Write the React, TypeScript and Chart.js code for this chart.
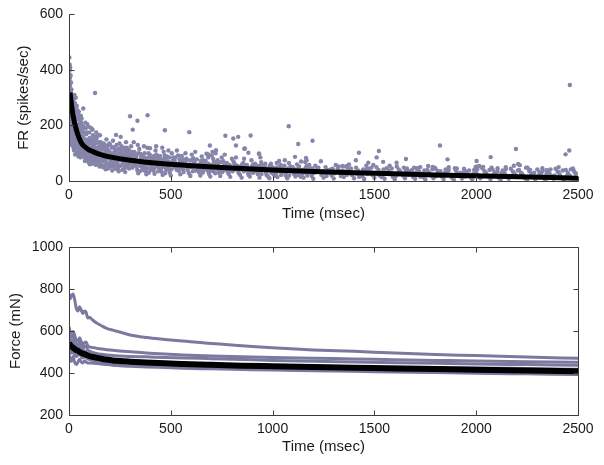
import React, { useEffect, useRef } from "react";
import { Chart, registerables } from "chart.js";

Chart.register(...registerables);

// ---------- Top panel: firing rate scatter (pairs: time msec, FR spikes/sec) ----------
const frOnset = [2,445, 3,420, 4,400, 2,385, 5,372, 3,360, 6,350, 4,342, 2,335, 7,328, 5,318, 3,305, 8,298, 6,290, 4,282, 9,275, 2,268, 7,262, 5,255, 10,248, 3,240, 8,235, 6,228, 11,222, 4,215, 9,208, 2,200, 12,195, 7,190, 5,183, 10,177, 3,170, 13,165, 8,160, 6,155, 11,150, 4,145, 14,140, 9,180, 12,205, 15,230, 13,260, 16,285, 11,310, 14,195, 15,170, 17,150, 16,215, 18,245, 12,130, 7,135, 19,175, 17,270, 6,410, 8,380, 10,355, 12,330, 14,300,
  1,300, 3,280, 5,230, 7,210, 9,320, 11,260, 13,225, 15,200, 16,180, 18,160, 19,210, 20,190];
const frRise = [21,290, 22,265, 23,240, 24,215, 25,190, 26,170, 27,150, 28,130, 22,120, 25,110, 29,280, 30,255, 31,230, 32,205, 33,185, 34,160, 35,140, 36,120, 37,100, 30,95, 38,270, 39,245, 40,222, 41,200, 42,178, 43,155, 44,135, 45,115, 46,98, 47,88, 48,250, 49,228, 50,206, 51,185, 52,165, 53,145, 54,128, 55,110, 56,95, 57,85, 58,235, 59,212, 60,190, 41,255, 33,300, 27,310, 45,240, 52,220, 24,175, 36,160, 44,105, 50,92, 56,130, 59,150, 28,200, 35,225, 48,170, 54,190,
  23,160, 26,255, 29,140, 31,195, 34,245, 37,175, 39,130, 42,240, 44,190, 46,150, 49,120, 51,230, 53,105, 55,170, 57,140, 61,120, 63,175, 66,135, 69,100, 71,195, 73,150, 77,110, 81,130, 84,90, 87,175, 89,140, 91,80, 94,115, 97,135, 101,100];
const frDecay = [62,225, 64,200, 66,180, 68,160, 70,140, 72,120, 74,100, 76,85, 78,72, 80,210, 82,190, 84,168, 86,148, 88,128, 90,110, 92,95, 94,80, 96,68, 98,195, 100,175, 102,155, 104,135, 106,118, 108,102, 110,88, 112,75, 114,62, 116,185, 118,165, 120,145, 122,128, 124,112, 126,98, 128,85, 130,72, 132,58, 134,175, 136,155, 138,138, 140,120, 142,105, 144,92, 146,78, 148,65, 150,52, 65,95, 75,130, 85,75, 95,150, 105,70, 115,130, 125,160, 135,95, 145,140, 70,175, 90,205, 110,190, 130,120, 140,60, 67,110, 83,100, 99,90, 117,108, 131,100, 147,110, 79,150, 103,80, 121,70, 139,80, 93,120, 113,150, 127,135, 143,165];
const frEarly = [152,165, 156,140, 160,118, 164,100, 168,85, 172,70, 176,55, 180,42, 184,150, 188,128, 192,110, 196,95, 200,80, 204,66, 208,52, 212,38, 216,145, 220,122, 224,105, 228,90, 232,76, 236,62, 240,48, 244,35, 248,135, 252,115, 256,98, 260,85, 264,72, 268,58, 272,45, 276,32, 280,140, 284,120, 288,100, 292,88, 296,75, 300,60, 158,75, 170,95, 182,110, 194,60, 206,95, 218,70, 230,110, 242,85, 254,55, 266,95, 278,108, 290,65, 162,130, 174,125, 186,90, 198,135, 210,120, 222,55, 234,130, 246,100, 258,125, 270,110, 282,80, 294,112, 166,50, 190,45, 214,85, 238,42, 262,40, 286,50];
const frMid = [305,125, 310,105, 315,90, 320,78, 325,65, 330,52, 335,40, 340,28, 345,115, 350,98, 355,85, 360,72, 365,60, 370,48, 375,35, 380,24, 385,120, 390,100, 395,88, 400,75, 405,63, 410,50, 415,38, 420,26, 425,110, 430,95, 435,82, 440,70, 445,58, 450,45, 455,33, 460,22, 465,105, 470,92, 475,80, 480,68, 485,55, 490,42, 495,30, 500,20, 312,60, 328,95, 342,70, 358,50, 372,85, 388,62, 402,40, 418,90, 432,55, 448,78, 462,60, 478,40, 492,85, 318,140, 338,130, 368,125, 398,118, 428,125, 458,120, 488,110, 348,35, 392,30, 438,35, 472,28,
  505,100, 512,85, 519,72, 526,60, 533,48, 540,36, 547,24, 554,90, 561,78, 568,65, 575,52, 582,40, 589,28, 596,18, 603,95, 610,82, 617,68, 624,55, 631,44, 638,32, 645,20, 652,88, 659,75, 666,62, 673,50, 680,38, 687,26, 694,16, 701,92, 708,80, 715,66, 722,54, 729,42, 736,30, 743,18, 750,85, 757,72, 764,60, 771,48, 778,36, 785,25, 792,15, 800,80, 515,55, 530,110, 545,65, 560,42, 580,75, 600,50, 620,105, 640,60, 660,40, 675,98, 690,55, 710,35, 730,75, 745,50, 765,95, 780,55, 795,40, 536,92, 572,100, 608,35, 648,72, 684,85, 720,100, 756,40];
const frMidFill = [102,60, 107,140, 111,115, 119,95, 123,82, 129,150, 133,110, 137,68, 141,90, 149,125, 153,100, 157,60, 161,88, 167,115, 171,135, 175,80, 179,100, 183,68, 187,118, 191,82, 195,48, 199,105, 203,130, 207,75, 211,100, 215,62, 219,95, 223,120, 227,45, 231,88, 235,100, 239,70, 243,115, 247,55, 251,92, 255,75, 259,105, 263,60, 267,82, 271,120, 275,68, 279,92, 283,55, 287,78, 291,100, 295,45, 299,85, 303,70, 307,95, 311,48, 317,80, 321,105, 327,58, 331,88, 337,72, 341,100, 347,55, 351,75, 357,92, 361,40, 367,68, 371,100, 377,58, 381,80, 387,45, 391,70, 397,95, 401,55, 407,82, 411,65, 417,45, 421,75, 427,60, 431,88, 437,50, 441,62, 447,90, 451,38, 457,72, 461,50, 467,80, 471,62, 477,45, 481,88, 487,70, 491,52, 497,65, 503,42, 509,72, 517,50, 523,85, 529,40, 537,62, 543,78, 551,48, 557,68, 563,32, 569,55, 577,80, 585,45, 593,60, 599,75,
  606,50, 614,65, 622,38, 628,78, 636,55, 643,42, 650,68, 657,30, 664,50, 671,72, 678,45, 685,62, 692,35, 698,58, 705,45, 712,70, 718,28, 725,50, 733,62, 740,40, 747,68, 754,32, 761,52, 768,42, 775,65, 782,30, 789,58, 797,48, 804,35, 812,62, 818,42, 826,55, 834,28, 842,48, 850,60, 858,35, 866,45, 874,58, 882,22, 890,40, 898,52, 906,30, 914,62, 922,45, 930,35, 938,55, 946,25, 954,42, 962,50, 970,22, 978,38, 986,55, 994,30, 1002,42, 1010,18, 1018,48, 1026,35, 1034,52, 1042,22, 1050,40, 1058,55, 1066,30, 1074,45, 1082,20, 1090,38, 1098,50, 1106,25, 1114,42, 1122,32, 1130,52, 1138,15, 1146,40, 1154,30, 1162,48, 1170,20, 1178,35, 1186,45, 1194,25];
const frLate = [808,70, 816,58, 824,45, 832,33, 840,22, 848,12, 856,65, 864,52, 872,40, 880,28, 888,16, 896,75, 904,60, 912,48, 920,36, 928,24, 936,12, 944,68, 952,55, 960,42, 968,30, 976,18, 984,10, 992,62, 1000,50, 1008,38, 1016,26, 1024,14, 1032,72, 1040,58, 1048,45, 1056,33, 1064,20, 1072,10, 1080,65, 1088,52, 1096,40, 1104,28, 1112,16, 1120,60, 1128,48, 1136,36, 1144,24, 1152,12, 1160,68, 1168,55, 1176,42, 1184,30, 1192,18, 1200,8, 820,85, 860,80, 900,30, 940,85, 980,45, 1020,65, 1060,75, 1100,48, 1140,70, 1180,58, 844,52, 884,45, 924,55, 964,62, 1004,25, 1044,30, 1084,35, 1124,22, 1164,38, 1196,45,
  1210,55, 1220,44, 1230,33, 1240,22, 1250,12, 1260,50, 1270,40, 1280,30, 1290,20, 1300,9, 1310,58, 1320,46, 1330,35, 1340,25, 1350,14, 1360,52, 1370,42, 1380,32, 1390,21, 1400,10, 1410,48, 1420,38, 1430,28, 1440,17, 1450,7, 1460,55, 1470,44, 1480,33, 1490,22, 1500,12, 1510,50, 1520,40, 1530,30, 1540,19, 1550,8, 1560,46, 1570,36, 1580,26, 1590,15, 1600,6, 1610,52, 1620,42, 1630,31, 1640,20, 1650,10, 1660,45, 1670,35, 1680,25, 1690,14, 1700,8, 1215,38, 1255,28, 1295,44, 1335,18, 1375,60, 1415,26, 1455,40, 1495,58, 1535,14, 1575,55, 1615,24, 1655,38, 1695,48];
const frTail = [1710,44, 1720,34, 1730,24, 1740,14, 1750,6, 1760,40, 1770,30, 1780,20, 1790,10, 1800,45, 1810,36, 1820,26, 1830,16, 1840,7, 1850,42, 1860,32, 1870,22, 1880,12, 1890,5, 1900,38, 1910,28, 1920,18, 1930,9, 1940,44, 1950,34, 1960,24, 1970,14, 1980,6, 1990,40, 2000,30, 2010,20, 2020,10, 2030,46, 2040,36, 2050,26, 2060,16, 2070,7, 2080,42, 2090,32, 2100,22, 2110,12, 2120,5, 2130,38, 2140,28, 2150,18, 2160,8, 2170,44, 2180,34, 2190,24, 2200,14, 1725,50, 1795,48, 1865,50, 1935,30, 2005,52, 2075,48, 2145,50, 2185,55,
  2210,40, 2220,30, 2230,20, 2240,10, 2250,4, 2260,36, 2270,26, 2280,16, 2290,7, 2300,42, 2310,32, 2320,22, 2330,12, 2340,4, 2350,38, 2360,28, 2370,18, 2380,8, 2390,44, 2400,34, 2410,24, 2420,14, 2430,5, 2440,40, 2450,30, 2460,20, 2470,10, 2480,36, 2490,26, 2245,48, 2325,46, 2405,50, 2475,45];
const frTailFill = [1205,30, 1225,48, 1245,35, 1265,18, 1285,42, 1305,28, 1325,52, 1345,38, 1365,22, 1385,45, 1405,32, 1425,15, 1445,42, 1465,25, 1485,48, 1505,30, 1525,20, 1545,42, 1565,28, 1585,45, 1605,18, 1625,35, 1645,48, 1665,22, 1685,40, 1705,30, 1725,15, 1745,38, 1765,25, 1785,42, 1805,18, 1825,35, 1845,28, 1865,40, 1885,20, 1905,45, 1925,30, 1945,15, 1965,38, 1985,25, 2005,42, 2025,18, 2045,32, 2065,40, 2085,22, 2105,35, 2125,28, 2145,42, 2165,18, 2185,30, 2205,38, 2225,25, 2245,15, 2265,40, 2285,30, 2305,18, 2325,35, 2345,25, 2365,42, 2385,20, 2405,32, 2425,38, 2445,18, 2465,42, 2485,30];
const frOutliers = [128,317, 300,233, 336,217, 386,237, 313,185, 254,159, 231,166, 70,261, 471,183, 591,176, 692,128, 768,163, 807,153, 831,159, 892,164, 820,128, 864,117, 934,97, 1079,197, 1126,133, 1196,145, 1424,102, 1522,108, 1511,85, 1470,66, 1609,66, 1655,79, 1822,128, 1859,78, 2002,72, 2071,86, 2195,115, 2206,61, 2214,57, 2460,346, 2457,110, 2439,96, 2252,48, 1164,83, 1237,71, 1110,87, 1167,75, 705,105, 722,111, 684,96, 881,102, 1409,75, 1543,69, 1344,54, 1368,54, 1764,54, 1786,51, 1712,46, 2034,51, 2015,54, 1997,51, 2105,46, 2345,39, 1895,46, 861,116, 933,99];

// mean fit curve
const fitTime = [5, 20, 40, 60, 90, 120, 160, 200, 300, 450, 600, 800, 1000, 1200, 1500, 1800, 2100, 2500];
const fitRate = [318, 235, 175, 138, 116, 105, 94, 87, 75, 63, 55, 47, 40, 34, 28, 22, 17, 10];

// ---------- Bottom panel: force traces ----------
const forceTime = [0, 5, 12, 20, 28, 36, 44, 52, 60, 68, 76, 84, 92, 100, 110, 125, 140, 160, 185, 215, 250, 300, 380, 470, 560, 700, 850, 1000, 1200, 1400, 1600, 1800, 2000, 2250, 2500];
const forceTrial1 = [780, 752, 765, 776, 748, 708, 695, 716, 700, 683, 695, 690, 662, 665, 658, 645, 636, 625, 613, 604, 595, 581, 569, 560, 552, 540, 530, 520, 510, 503, 495, 488, 483, 476, 470];
const forceTrial2 = [620, 600, 590, 598, 580, 555, 552, 568, 550, 535, 545, 548, 530, 525, 522, 520, 517, 514, 511, 508, 505, 501, 495, 490, 486, 481, 477, 474, 470, 467, 463, 460, 457, 454, 451];
const forceTrial3 = [600, 585, 570, 580, 560, 535, 530, 548, 530, 515, 525, 528, 510, 505, 500, 496, 492, 489, 486, 483, 481, 479, 477, 474, 472, 468, 464, 460, 456, 452, 449, 446, 443, 440, 437];
const forceTrial4 = [575, 560, 545, 560, 535, 505, 510, 530, 505, 495, 505, 500, 485, 482, 478, 474, 470, 466, 462, 459, 456, 453, 450, 447, 445, 442, 439, 436, 433, 430, 428, 426, 424, 421, 418];
const forceTrial5 = [520, 505, 495, 505, 488, 478, 485, 492, 478, 472, 478, 474, 467, 465, 462, 459, 456, 452, 448, 444, 441, 438, 434, 430, 427, 424, 420, 418, 414, 411, 408, 405, 402, 398, 395];
const forceTrial6 = [495, 470, 455, 478, 450, 440, 452, 465, 452, 448, 458, 452, 448, 448, 447, 446, 445, 443, 440, 437, 435, 432, 429, 426, 423, 420, 417, 414, 411, 408, 405, 402, 399, 396, 393];
const forceMean = [541, 535, 527, 520, 514, 509, 505, 500, 496, 493, 490, 487, 484, 481, 478, 475, 472, 468, 464, 460, 457, 454, 450, 446, 443, 439, 435, 432, 428, 425, 422, 419, 416, 412, 408];

// ticks
const timeTicks = [0, 500, 1000, 1500, 2000, 2500];
const frTicks = [0, 200, 400, 600];
const forceTicks = [200, 400, 600, 800, 1000];

const DOT = "#8585aa";
const TRACE = "#7a7aa0";
const AXIS = "#3c3c3c";
const TEXT = "#1a1a1a";
const FONT = "'Liberation Sans', Arial, sans-serif";

const pairs = (...groups: number[][]) => {
  const out: { x: number; y: number }[] = [];
  groups.forEach((g) => {
    for (let i = 0; i + 1 < g.length; i += 2) out.push({ x: g[i], y: g[i + 1] });
  });
  return out;
};
const zip = (xs: number[], ys: number[]) => xs.map((x, i) => ({ x, y: ys[i] }));

const axesPlugin = (box: boolean) => ({
  id: "matlabAxes",
  afterDatasetsDraw(chart: any) {
    const { ctx, chartArea: a, scales } = chart;
    const xs = scales.x;
    const ys = scales.y;
    const L = 5;
    ctx.save();
    ctx.strokeStyle = AXIS;
    ctx.lineWidth = 1;
    ctx.beginPath();
    const left = Math.round(a.left) + 0.5;
    const right = Math.round(a.right) + 0.5;
    const top = Math.round(a.top) + 0.5;
    const bottom = Math.round(a.bottom) + 0.5;
    ctx.moveTo(left, top);
    ctx.lineTo(left, bottom);
    ctx.lineTo(right, bottom);
    if (box) {
      ctx.lineTo(right, top);
      ctx.lineTo(left, top);
    }
    xs.ticks.forEach((t: any) => {
      const px = Math.round(xs.getPixelForValue(t.value)) + 0.5;
      ctx.moveTo(px, bottom);
      ctx.lineTo(px, bottom - L);
      if (box) {
        ctx.moveTo(px, top);
        ctx.lineTo(px, top + L);
      }
    });
    ys.ticks.forEach((t: any) => {
      const py = Math.round(ys.getPixelForValue(t.value)) + 0.5;
      ctx.moveTo(left, py);
      ctx.lineTo(left + L, py);
      if (box) {
        ctx.moveTo(right, py);
        ctx.lineTo(right - L, py);
      }
    });
    ctx.stroke();
    ctx.restore();
  },
});

function makeOptions(opts: {
  yMin: number; yMax: number; yTicks: number[]; yTitle: string; yTitlePad: number;
  top: number; xHeight: number;
}) {
  return {
    responsive: false,
    animation: false as const,
    devicePixelRatio: 1,
    layout: { padding: { top: opts.top, right: 26, left: 0, bottom: 0 } },
    plugins: { legend: { display: false }, tooltip: { enabled: false } },
    elements: { point: { radius: 0 } },
    scales: {
      x: {
        type: "linear" as const,
        min: 0,
        max: 2500,
        afterBuildTicks: (s: any) => { s.ticks = timeTicks.map((v) => ({ value: v })); },
        afterFit: (s: any) => { s.height = opts.xHeight; },
        grid: { display: false, drawTicks: false },
        border: { display: false },
        ticks: { color: TEXT, font: { family: FONT, size: 14 }, padding: 6, maxRotation: 0, callback: (v: any) => String(v) },
        title: { display: true, text: "Time (msec)", color: TEXT, font: { family: FONT, size: 15 }, padding: { top: 0, bottom: 9 } },
      },
      y: {
        type: "linear" as const,
        min: opts.yMin,
        max: opts.yMax,
        afterBuildTicks: (s: any) => { s.ticks = opts.yTicks.map((v) => ({ value: v })); },
        afterFit: (s: any) => { s.width = 69; },
        grid: { display: false, drawTicks: false },
        border: { display: false },
        ticks: { color: TEXT, font: { family: FONT, size: 14 }, padding: 6, callback: (v: any) => String(v) },
        title: { display: true, text: opts.yTitle, color: TEXT, font: { family: FONT, size: 15 }, padding: { top: opts.yTitlePad, bottom: 0 } },
      },
    },
  };
}

export default function App() {
  const topRef = useRef<HTMLCanvasElement>(null);
  const botRef = useRef<HTMLCanvasElement>(null);

  useEffect(() => {
    const top = new Chart(topRef.current!, {
      type: "scatter",
      data: {
        datasets: [
          {
            data: zip(fitTime, fitRate),
            showLine: true,
            borderColor: "#000",
            borderWidth: 5,
            pointRadius: 0,
            cubicInterpolationMode: "monotone",
            order: 0,
          } as any,
          {
            data: pairs(frOnset, frRise, frDecay, frEarly, frMidFill, frMid, frLate, frTail, frTailFill, frOutliers),
            showLine: false,
            pointRadius: 2.2,
            pointBorderWidth: 0,
            pointBackgroundColor: DOT,
            pointBorderColor: DOT,
            order: 1,
          } as any,
        ],
      },
      options: makeOptions({ yMin: 0, yMax: 600, yTicks: frTicks, yTitle: "FR (spikes/sec)", yTitlePad: 15, top: 14, xHeight: 51 }) as any,
      plugins: [axesPlugin(false)],
    });

    const traces = [forceTrial1, forceTrial2, forceTrial3, forceTrial4, forceTrial5, forceTrial6];
    const bot = new Chart(botRef.current!, {
      type: "scatter",
      data: {
        datasets: [
          {
            data: zip(forceTime, forceMean),
            showLine: true,
            borderColor: "#000",
            borderWidth: 6,
            pointRadius: 0,
            cubicInterpolationMode: "monotone",
            order: 0,
          } as any,
          ...traces.map((tr) => ({
            data: zip(forceTime, tr),
            showLine: true,
            borderColor: TRACE,
            borderWidth: 3,
            pointRadius: 0,
            cubicInterpolationMode: "monotone",
            order: 1,
          })),
        ],
      },
      options: makeOptions({ yMin: 200, yMax: 1000, yTicks: forceTicks, yTitle: "Force (mN)", yTitlePad: 6.5, top: 15, xHeight: 50 }) as any,
      plugins: [axesPlugin(true)],
    });

    return () => {
      top.destroy();
      bot.destroy();
    };
  }, []);

  return (
    <div style={{ position: "absolute", left: 0, top: 0, width: 604, height: 465, background: "#fff" }}>
      <canvas ref={topRef} width={604} height={232} style={{ display: "block", width: 604, height: 232 }} />
      <canvas ref={botRef} width={604} height={233} style={{ display: "block", width: 604, height: 233 }} />
    </div>
  );
}
